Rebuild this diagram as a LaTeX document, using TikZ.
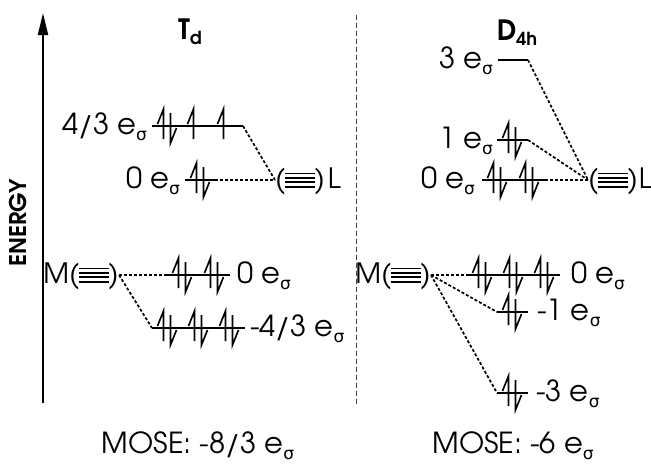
\documentclass[tikz,border=0pt]{standalone}
\usepackage{fontspec}
\setmainfont{texgyreadventor}[Extension=.otf, UprightFont=*-regular, BoldFont=*-bold]
\newfontfamily\sigfont{DejaVu Sans}
\usetikzlibrary{arrows.meta}
\newcommand\es{e\raisebox{-6pt}{\fontsize{17}{17}\sigfont σ}}
\newcommand\hr{\hrule width 30pt height 1.8pt}
\newcommand\orbstack{\kern-0.5pt\raisebox{1.4pt}{\vbox{\hr\kern2.6pt\hr\kern2.6pt\hr\kern2.6pt\hr}}\kern-0.5pt}
\tikzset{
  lev/.style={line width=1.8pt},
  el/.style={line width=1.6pt},
  con/.style={line width=1.7pt, dash pattern=on 3pt off 2pt},
  divider/.style={line width=1pt, black!75, dash pattern=on 5pt off 3pt},
  lbl/.style={inner sep=0pt, font=\fontsize{29}{29}\selectfont},
  lig/.style={inner sep=0pt, text height=17.8pt, text depth=0pt, font=\fontsize{28}{28}\selectfont},
  ttl/.style={inner sep=0pt, font=\fontsize{28}{28}\selectfont\bfseries},
  pics/pair/.style={code={
    \draw[el] (-3.5,13) -- (-3.5,-17) -- (-9.5,-2);
    \draw[el] (3.5,-13) -- (3.5,17) -- (9.5,2);}},
  pics/upe/.style={code={
    \draw[el] (-3.5,13) -- (-3.5,-17) -- (-9.5,-2);}},
}
\begin{document}
\begin{tikzpicture}[x=1pt,y=-1pt]
\useasboundingbox (0,0) rectangle (651,464);
% energy axis
\coordinate (ab) at (43,403);
\coordinate (at) at (43,13);
\draw[line width=2pt, -{Triangle[length=22pt,width=10pt]}] (ab) -- (at);
\node[rotate=90, inner sep=0pt, font=\fontsize{23}{23}\selectfont\bfseries] (en) at (18,223) {ENERGY};
% divider
\coordinate (dt) at (356,15);
\coordinate (db) at (356,406);
\draw[divider] (dt) -- (db);
% titles
\node[ttl] (td) at (190,32) {T\raisebox{-5pt}{\fontsize{18}{18}\selectfont d}};
\node[ttl] (d4h) at (517,33) {D\raisebox{-5pt}{\fontsize{18}{18}\selectfont 4h}};

% ===== Td =====
\node[lig, anchor=west] (Ltd) at (275,180) {(\orbstack)\kern3pt L};
\node[lig, anchor=east] (Mtd) at (119,275) {M(\orbstack)};
% 4/3 level
\draw[lev] (152,126) coordinate (a1) -- (243,126) coordinate (a2);
\pic at (167,126) {pair};
\pic at (197,126) {upe};
\pic at (227,126) {upe};
\node[lbl, anchor=base east] (la) at (147,134) {4/3 \es};
% 0 level (upper)
\draw[lev] (185,180) coordinate (b1) -- (215,180) coordinate (b2);
\pic at (200,180) {pair};
\node[lbl, anchor=base east] (lb) at (180,188) {0 \es};
\draw[con] (a2) -- (Ltd.west);
\draw[con] (b2) -- (Ltd.west);
% 0 level (lower)
\draw[lev] (167,275) coordinate (c1) -- (230,275) coordinate (c2);
\pic at (182,275) {pair};
\pic at (214,275) {pair};
\node[lbl, anchor=base west] (lc) at (237,283) {0 \es};
% -4/3 level
\draw[lev] (152,328) coordinate (d1) -- (245,328) coordinate (d2);
\pic at (167,328) {pair};
\pic at (198,328) {pair};
\pic at (229,328) {pair};
\node[lbl, anchor=base west] (ld) at (250,336) {-4/3 \es};
\draw[con] (Mtd.east) -- (c1);
\draw[con] (Mtd.east) -- (d1);
\node[lbl] (mose1) at (198,446) {MOSE: -8/3 \es};

% ===== D4h =====
\node[lig, anchor=west] (Ld) at (588,180) {(\orbstack)\kern1pt L};
\node[lig, anchor=east] (Md) at (431,275) {M(\orbstack)};
% 3 level
\draw[lev] (498,60) coordinate (e1) -- (528,60) coordinate (e2);
\node[lbl, anchor=base east] (le) at (493,68) {3 \es};
% 1 level
\draw[lev] (497,140) coordinate (f1) -- (528,140) coordinate (f2);
\pic at (512,140) {pair};
\node[lbl, anchor=base east] (lf) at (493,148) {1 \es};
% 0 level upper
\draw[lev] (482,180) coordinate (g1) -- (545,180) coordinate (g2);
\pic at (497,180) {pair};
\pic at (529,180) {pair};
\node[lbl, anchor=base east] (lg) at (475,188) {0 \es};
\draw[con] (e2) -- (Ld.west);
\draw[con] (f2) -- (Ld.west);
\draw[con] (g2) -- (Ld.west);
% 0 level lower
\draw[lev] (467,275) coordinate (h1) -- (560,275) coordinate (h2);
\pic at (482,275) {pair};
\pic at (513,275) {pair};
\pic at (544,275) {pair};
\node[lbl, anchor=base west] (lh) at (571,283) {0 \es};
% -1 level
\draw[lev] (497,312) coordinate (i1) -- (528,312) coordinate (i2);
\pic at (512,312) {pair};
\node[lbl, anchor=base west] (li) at (537,320) {-1 \es};
% -3 level
\draw[lev] (497,393) coordinate (j1) -- (528,393) coordinate (j2);
\pic at (512,393) {pair};
\node[lbl, anchor=base west] (lj) at (536,401) {-3 \es};
\draw[con] (Md.east) -- (h1);
\draw[con] (Md.east) -- (i1);
\draw[con] (Md.east) -- (j1);
\node[lbl] (mose2) at (513,446) {MOSE: -6 \es};
\end{tikzpicture}
\end{document}
